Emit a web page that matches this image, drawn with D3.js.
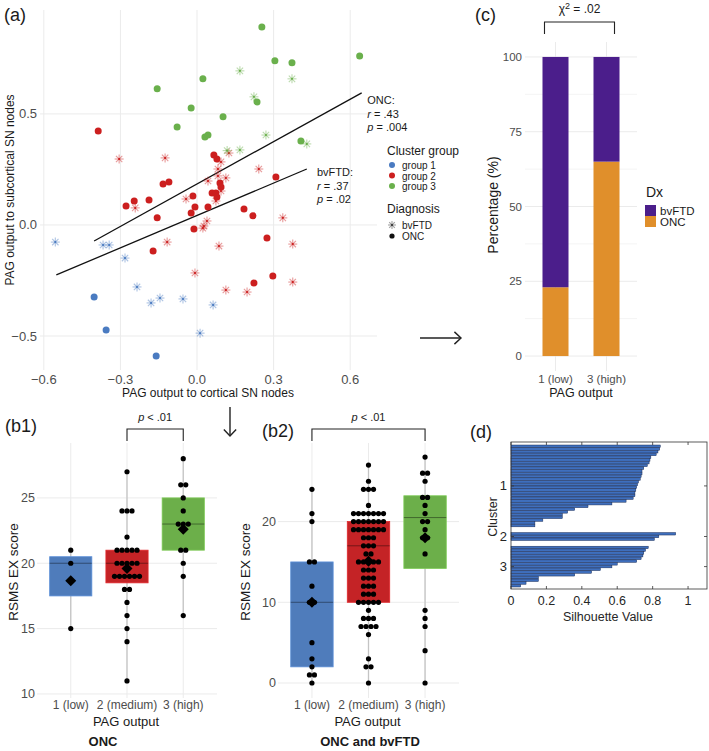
<!DOCTYPE html>
<html><head><meta charset="utf-8">
<script src="https://cdn.jsdelivr.net/npm/d3@7"></script>
<style>body{margin:0;background:#fff}svg{display:block}text{font-family:"Liberation Sans",Arial,Helvetica,sans-serif}</style>
</head><body>
<svg id="fig" width="709" height="751"></svg>
<script>
// ================= DATA =================
// (a) scatter: [cortical, subcortical]
const g1_bvFTD=[[-0.555,-0.077],[-0.368,-0.090],[-0.344,-0.090],[-0.282,-0.149],[-0.235,-0.279],[-0.180,-0.351],[-0.145,-0.329],[-0.055,-0.333],[0.063,-0.360],[0.012,-0.487]];
const g1_ONC=[[-0.403,-0.324],[-0.356,-0.473],[-0.160,-0.590]];
const g2_bvFTD=[[-0.305,0.297],[-0.125,0.302],[0.094,0.284],[0.082,0.252],[0.242,0.252],[0.043,0.198],[0.113,0.212],[0.082,0.221],[0.094,0.153],[-0.043,0.117],[-0.242,0.077],[0.074,0.108],[0.125,0.324],[0.039,0.018],[0.027,-0.005],[0.023,-0.014],[-0.117,-0.077],[0.086,-0.095],[0.336,0.032],[0.375,-0.086],[-0.008,-0.216],[0.113,-0.293],[0.196,-0.302],[0.375,-0.257]];
const g2_ONC=[[-0.387,0.423],[0.066,0.315],[0.078,0.297],[0.309,0.216],[-0.133,0.185],[-0.110,0.194],[0.090,0.189],[0.094,0.171],[-0.016,0.131],[0.059,0.144],[0.074,0.144],[0.078,0.126],[-0.278,0.086],[-0.246,0.108],[-0.188,0.113],[-0.008,0.081],[0.043,0.081],[-0.023,0.054],[-0.156,0.032],[0.184,0.072],[0.219,0.041],[-0.012,-0.018],[-0.172,-0.117],[0.274,-0.059],[0.297,-0.230],[0.223,-0.261]];
const g3_bvFTD=[[0.168,0.694],[0.372,0.658],[0.223,0.577],[0.270,0.405],[0.430,0.365],[0.168,0.338],[0.118,0.335]];
const g3_ONC=[[0.254,0.892],[0.305,0.739],[0.372,0.730],[0.023,0.658],[-0.156,0.613],[-0.023,0.527],[0.235,0.554],[0.102,0.487],[-0.078,0.441],[0.031,0.396],[0.043,0.405],[0.407,0.378],[0.637,0.761]];
const regONC=[[-0.403,-0.072],[0.645,0.595]];
const regBvFTD=[[-0.551,-0.225],[0.430,0.252]];
const xTicksA=[-0.6,-0.3,0,0.3,0.6];
const yTicksA=[-0.5,0,0.5];
const clusterLabels=["group 1","group 2","group 3"];

// (c) stacked percentages
const cCats=["1 (low)","3 (high)"];
const cONC=[23,65];
const cBvFTD=[77,35];
const cTicks=[0,25,50,75,100];

// (b) box plots
const bCats=["1 (low)","2 (medium)","3 (high)"];
const b1Q1=[17.5,18.5,21], b1Med=[20,20,23], b1Q3=[20.5,21,25], b1Mean=[18.67,19.6,22.6], b1Lo=[15,11,16], b1Hi=[21,27,28];
const b1Dots=[
 [[21,1],[20,1],[15,1]],
 [[27,1],[24,3],[22,1],[21,5],[20,5],[19,6],[18,2],[17,1],[16,1],[15,1],[14,1],[11,1]],
 [[28,1],[26,2],[25,1],[24,1],[23,3],[21,2],[20,1],[19,1],[16,1]]
];
const b1Ticks=[10,15,20,25];
const b2Q1=[2,10,14.2], b2Med=[10,17,20.5], b2Q3=[15,20,23.2], b2Mean=[10,15.1,18], b2Lo=[0,0,0], b2Hi=[24,27,28];
const b2Dots=[
 [[24,1],[21,1],[20,1],[15,2],[12,1],[10,2],[5,1],[3,1],[2,1],[1,2],[0,1]],
 [[27,1],[25,1],[24,3],[22,1],[21,7],[20,7],[19,7],[18,3],[17,3],[16,2],[15,5],[14,3],[13,3],[12,3],[11,3],[10,5],[9,1],[8,3],[7,4],[6,1],[3,1],[2,2],[0,1]],
 [[28,1],[26,2],[25,1],[23,2],[22,1],[21,1],[20,2],[19,1],[18,2],[16,1],[9,1],[8,1],[7,1],[4,1],[0,1]]
];
const b2Ticks=[0,10,20];

// (d) silhouette
const sil1=[0.843,0.84,0.83,0.82,0.79,0.785,0.78,0.77,0.75,0.74,0.74,0.735,0.73,0.72,0.715,0.71,0.705,0.70,0.70,0.69,0.65,0.57,0.435,0.36,0.32,0.29,0.29,0.18,0.135,0.135];
const sil2=[0.93,0.835,0.81];
const sil3=[0.775,0.76,0.75,0.745,0.735,0.71,0.60,0.57,0.505,0.455,0.36,0.155,0.155,0.085,0.055];
const dTicks=[0,0.2,0.4,0.6,0.8,1];

// ================= DRAW =================
const svg=d3.select("#fig");
const TICK="#4d4d4d", GRID="#ebebeb", TITLE="#1a1a1a";
const COL=["#4a7bc1","#cc1f1f","#6ab04c"];

function txt(x,y,s,opt={}){
  const t=svg.append("text").attr("x",x).attr("y",y).text(s)
    .attr("font-size",opt.size||12).attr("fill",opt.fill||TITLE)
    .attr("text-anchor",opt.anchor||"start");
  if(opt.weight) t.attr("font-weight",opt.weight);
  if(opt.rot) t.attr("transform",`rotate(-90,${x},${y})`);
  return t;
}
function star(g,x,y,c,r=4.5){
  const s=g.append("g").attr("transform",`translate(${x},${y})`);
  [0,45,90,135].forEach(a=>{
    const rad=a*Math.PI/180;
    s.append("line").attr("x1",-r*Math.cos(rad)).attr("y1",-r*Math.sin(rad))
     .attr("x2",r*Math.cos(rad)).attr("y2",r*Math.sin(rad))
     .attr("stroke",c).attr("stroke-opacity",0.45).attr("stroke-width",1.1);
  });
  s.append("circle").attr("r",1).attr("fill",c);
}

// ---------- (a) ----------
const xA=d3.scaleLinear().domain([-0.615,0.705]).range([40,377]);
const yA=d3.scaleLinear().domain([-0.653,0.968]).range([370,10]);
const gA=svg.append("g");
xTicksA.forEach(v=>gA.append("line").attr("x1",xA(v)).attr("x2",xA(v)).attr("y1",10).attr("y2",370).attr("stroke",GRID));
yTicksA.forEach(v=>gA.append("line").attr("x1",40).attr("x2",377).attr("y1",yA(v)).attr("y2",yA(v)).attr("stroke",GRID));
xTicksA.forEach(v=>txt(xA(v),384,d3.format(".1f")(v),{size:13,fill:TICK,anchor:"middle"}));
yTicksA.forEach(v=>txt(37,yA(v)+4.5,d3.format(".1f")(v),{size:13,fill:TICK,anchor:"end"}));
txt(208,397,"PAG output to cortical SN nodes",{size:12,anchor:"middle"});
txt(14,190,"PAG output to subcortical SN nodes",{size:12,anchor:"middle",rot:true});
txt(4,21,"(a)",{size:18});
const line=d3.line().x(d=>xA(d[0])).y(d=>yA(d[1]));
[regONC,regBvFTD].forEach(r=>gA.append("path").attr("d",line(r)).attr("stroke","#111").attr("stroke-width",1.3).attr("fill","none"));
[[g1_bvFTD,0],[g2_bvFTD,1],[g3_bvFTD,2]].forEach(([arr,i])=>arr.forEach(d=>star(gA,xA(d[0]),yA(d[1]),COL[i])));
[[g1_ONC,0],[g2_ONC,1],[g3_ONC,2]].forEach(([arr,i])=>arr.forEach(d=>gA.append("circle").attr("cx",xA(d[0])).attr("cy",yA(d[1])).attr("r",3.5).attr("fill",COL[i])));
// annotations
function stat(x,y,lab,r,p){
  txt(x,y,lab,{size:11});
  const t1=txt(x,y+14,"",{size:11}); t1.append("tspan").attr("font-style","italic").text("r"); t1.append("tspan").text(" = "+r);
  const t2=txt(x,y+27,"",{size:11}); t2.append("tspan").attr("font-style","italic").text("p"); t2.append("tspan").text(" = "+p);
}
stat(xA(0.667),104,"ONC:",".43",".004");
stat(xA(0.47),176,"bvFTD:",".37",".02");
// legend
txt(387,155,"Cluster group",{size:12});
clusterLabels.forEach((l,i)=>{
  svg.append("circle").attr("cx",392).attr("cy",165+i*10.5).attr("r",3).attr("fill",COL[i]);
  txt(402,169+i*10.5,l,{size:10});
});
txt(387,213,"Diagnosis",{size:12});
star(svg,392,225,"#333",4);
txt(402,228.5,"bvFTD",{size:10});
svg.append("circle").attr("cx",392).attr("cy",236).attr("r",2.6).attr("fill","#111");
txt(402,239.5,"ONC",{size:10});

// arrows
function arrow(x1,y1,x2,y2){
  svg.append("line").attr("x1",x1).attr("y1",y1).attr("x2",x2).attr("y2",y2).attr("stroke","#222").attr("stroke-width",1.4);
  const a=Math.atan2(y2-y1,x2-x1), L=9, w=0.75;
  const p=[[x2-L*Math.cos(a-w),y2-L*Math.sin(a-w)],[x2,y2],[x2-L*Math.cos(a+w),y2-L*Math.sin(a+w)]];
  svg.append("path").attr("d",d3.line()(p)).attr("stroke","#222").attr("stroke-width",1.4).attr("fill","none");
}
arrow(420,338,461,338);
arrow(230,407,230,436);

// ---------- (c) ----------
const xC=d3.scaleBand().domain(cCats).range([525,637]).paddingInner(0.49).paddingOuter(0.343);
const yC=d3.scaleLinear().domain([-5,105]).range([371,42]);
const gC=svg.append("g");
d3.range(0,101,12.5).forEach(v=>gC.append("line").attr("x1",525).attr("x2",637).attr("y1",yC(v)).attr("y2",yC(v)).attr("stroke",v%25===0?GRID:"#f4f4f4"));
cCats.forEach(c=>gC.append("line").attr("x1",xC(c)+xC.bandwidth()/2).attr("x2",xC(c)+xC.bandwidth()/2).attr("y1",42).attr("y2",371).attr("stroke",GRID));
cCats.forEach((c,i)=>{
  gC.append("rect").attr("x",xC(c)).attr("width",xC.bandwidth()).attr("y",yC(cONC[i])).attr("height",yC(0)-yC(cONC[i])).attr("fill","#e08f2b");
  gC.append("rect").attr("x",xC(c)).attr("width",xC.bandwidth()).attr("y",yC(cONC[i]+cBvFTD[i])).attr("height",yC(cONC[i])-yC(cONC[i]+cBvFTD[i])).attr("fill","#4b1e8b");
  txt(xC(c)+xC.bandwidth()/2,383,c,{size:11.5,fill:TICK,anchor:"middle"});
});
cTicks.forEach(v=>txt(522,yC(v)+4,v,{size:11.5,fill:TICK,anchor:"end"}));
txt(581,397,"PAG output",{size:12.5,anchor:"middle"});
txt(498,205,"Percentage (%)",{size:14,anchor:"middle",rot:true});
txt(475,21,"(c)",{size:18});
{ const xl=xC(cCats[0])+2, xr=xC(cCats[1])+xC.bandwidth()-5;
  svg.append("path").attr("d",`M${xl},34V22H${xr}V34`).attr("stroke","#222").attr("stroke-width",1.1).attr("fill","none");
  const t=txt((xl+xr)/2,13,"\u03c7",{size:12,anchor:"middle"});
  t.append("tspan").attr("dy",-4).attr("font-size",9).text("2");
  t.append("tspan").attr("dy",4).text("  = .02");
}
txt(646,197,"Dx",{size:14});
[["bvFTD","#4b1e8b"],["ONC","#e08f2b"]].forEach(([l,c],i)=>{
  svg.append("rect").attr("x",645).attr("y",205+i*11).attr("width",11).attr("height",11).attr("fill",c);
  txt(660,214.5+i*11,l,{size:11.5});
});

// ---------- (b) box plots ----------
function boxPanel(o){
  const x=d3.scalePoint().domain(bCats).range([o.x0,o.x1]).padding(0.6);
  const y=d3.scaleLinear().domain(o.dom).range([698,443]);
  const g=svg.append("g");
  o.ticks.forEach(v=>g.append("line").attr("x1",o.x0).attr("x2",o.x1).attr("y1",y(v)).attr("y2",y(v)).attr("stroke",GRID));
  bCats.forEach(c=>g.append("line").attr("x1",x(c)).attr("x2",x(c)).attr("y1",443).attr("y2",698).attr("stroke",GRID));
  const bw=x.step()*0.75;
  bCats.forEach((c,i)=>{
    const cx=x(c);
    g.append("line").attr("x1",cx).attr("x2",cx).attr("y1",y(o.lo[i])).attr("y2",y(o.hi[i])).attr("stroke","#c4c4c4").attr("stroke-width",1.3);
    g.append("rect").attr("x",cx-bw/2).attr("width",bw).attr("y",y(o.q3[i])).attr("height",y(o.q1[i])-y(o.q3[i]))
      .attr("fill",o.cols[i]).attr("stroke",d3.color(o.cols[i]).brighter(0.4)).attr("stroke-width",0.8);
    g.append("line").attr("x1",cx-bw/2).attr("x2",cx+bw/2).attr("y1",y(o.med[i])).attr("y2",y(o.med[i])).attr("stroke","#000").attr("stroke-opacity",0.45).attr("stroke-width",0.9);
    o.dots[i].forEach(([v,n])=>{
      for(let k=0;k<n;k++){
        g.append("circle").attr("cx",cx+(k-(n-1)/2)*5).attr("cy",y(v)).attr("r",2.6).attr("fill","#000");
      }
    });
    const my=y(o.mean[i]);
    g.append("path").attr("d",`M${cx},${my-5.5}L${cx+5.5},${my}L${cx},${my+5.5}L${cx-5.5},${my}Z`).attr("fill","#000");
    txt(cx,709,c,{size:12,fill:TICK,anchor:"middle"});
  });
  o.ticks.forEach(v=>txt(o.x0-2,y(v)+4.5,v,{size:12.5,fill:TICK,anchor:"end"}));
  txt((o.x0+o.x1)/2-1,726,"PAG output",{size:13,anchor:"middle"});
  txt(o.ytx,572,"RSMS EX score",{size:13.5,anchor:"middle",rot:true});
  txt(o.capx,746,o.cap,{size:13,anchor:"middle",weight:"bold"});
  txt(o.labx,o.laby,o.lab,{size:18});
  const a=x(bCats[o.br[0]]), b=x(bCats[o.br[1]]);
  svg.append("path").attr("d",`M${a},441V429H${b}V441`).attr("stroke","#222").attr("stroke-width",1.1).attr("fill","none");
  const t=txt((a+b)/2,421,"",{size:11,anchor:"middle"});
  t.append("tspan").attr("font-style","italic").text("p");
  t.append("tspan").text(" < .01");
}
boxPanel({x0:37,x1:217,dom:[9.69,29.2],ticks:b1Ticks,q1:b1Q1,med:b1Med,q3:b1Q3,mean:b1Mean,lo:b1Lo,hi:b1Hi,dots:b1Dots,
  cols:["#4f7cbb","#c42326","#6caf4a"],ytx:18,cap:"ONC",capx:103,lab:"(b1)",labx:5,laby:432,br:[1,2]});
boxPanel({x0:278,x1:459,dom:[-1.86,29.74],ticks:b2Ticks,q1:b2Q1,med:b2Med,q3:b2Q3,mean:b2Mean,lo:b2Lo,hi:b2Hi,dots:b2Dots,
  cols:["#4f7cbb","#c42326","#6caf4a"],ytx:250,cap:"ONC and bvFTD",capx:370,lab:"(b2)",labx:262,laby:437,br:[0,2]});

// ---------- (d) silhouette ----------
const rows=[];
sil1.forEach((v,i)=>rows.push({k:"a"+i,v}));
rows.push({k:"g1"},{k:"g2"});
sil2.forEach((v,i)=>rows.push({k:"b"+i,v}));
rows.push({k:"g3"},{k:"g4"});
sil3.forEach((v,i)=>rows.push({k:"c"+i,v}));
const xD=d3.scaleLinear().domain([0,1.107]).range([511,707]);
const yD=d3.scaleBand().domain(rows.map(r=>r.k)).range([445,587]).paddingInner(0.08);
const gD=svg.append("g");
rows.filter(r=>r.v!==undefined).forEach(r=>gD.append("rect").attr("x",xD(0)).attr("y",yD(r.k)).attr("width",xD(r.v)-xD(0)).attr("height",yD.bandwidth())
  .attr("fill","#3f6fbd").attr("stroke","#15254d").attr("stroke-width",0.45));
gD.append("rect").attr("x",511).attr("y",442).attr("width",196).attr("height",147).attr("fill","none").attr("stroke","#333").attr("stroke-width",0.8);
dTicks.forEach(v=>{
  gD.append("line").attr("x1",xD(v)).attr("x2",xD(v)).attr("y1",589).attr("y2",586).attr("stroke","#333").attr("stroke-width",0.8);
  gD.append("line").attr("x1",xD(v)).attr("x2",xD(v)).attr("y1",442).attr("y2",445).attr("stroke","#333").attr("stroke-width",0.8);
  txt(xD(v),605,d3.format("~g")(v),{size:12.5,fill:"#262626",anchor:"middle"});
});
[[sil1,"a","1"],[sil2,"b","2"],[sil3,"c","3"]].forEach(([arr,p,l])=>{
  const yc=(yD(p+"0")+yD(p+(arr.length-1))+yD.bandwidth())/2;
  gD.append("line").attr("x1",511).attr("x2",514).attr("y1",yc).attr("y2",yc).attr("stroke","#333").attr("stroke-width",0.8);
  gD.append("line").attr("x1",704).attr("x2",707).attr("y1",yc).attr("y2",yc).attr("stroke","#333").attr("stroke-width",0.8);
  txt(507,yc+4.5,l,{size:13,fill:"#262626",anchor:"end"});
});
txt(608,621,"Silhouette Value",{size:12.5,fill:"#262626",anchor:"middle"});
txt(497,517,"Cluster",{size:12.5,fill:"#262626",anchor:"middle",rot:true});
txt(470,438,"(d)",{size:18});
</script>
</body></html>
